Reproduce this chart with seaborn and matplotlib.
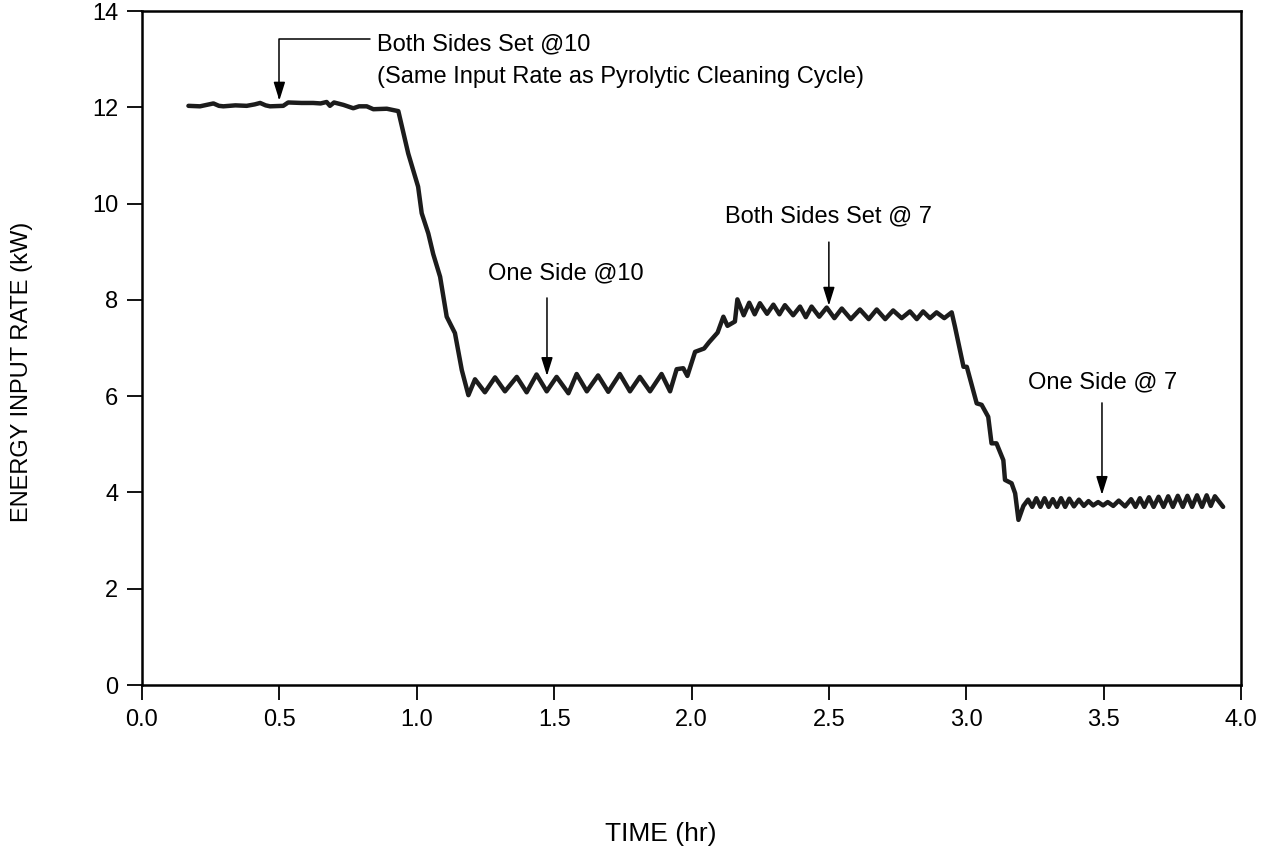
import matplotlib
matplotlib.use("Agg")
import matplotlib.pyplot as plt
import seaborn as sns
import pandas as pd

# ---------------- data ----------------
time_hr = [
    # both sides @10
    0.169, 0.211, 0.235, 0.260, 0.280, 0.296, 0.340, 0.381, 0.410, 0.430,
    0.450, 0.466, 0.514, 0.532, 0.580, 0.623, 0.650, 0.672, 0.684, 0.699,
    0.733, 0.769, 0.790, 0.818, 0.842, 0.891, 0.933,
    # drop
    0.969, 1.005, 1.018, 1.042, 1.060, 1.085, 1.109, 1.139, 1.164, 1.188,
    # one side @10
    1.212, 1.248, 1.285, 1.321, 1.364, 1.400, 1.436, 1.473, 1.509, 1.552,
    1.582, 1.619, 1.660, 1.697, 1.739, 1.776, 1.812, 1.849, 1.891, 1.922,
    # rise
    1.946, 1.970, 1.985, 2.013, 2.046, 2.064, 2.095, 2.116, 2.131, 2.158,
    # both sides @7
    2.167, 2.190, 2.210, 2.230, 2.249, 2.275, 2.298, 2.320, 2.340, 2.370,
    2.395, 2.416, 2.437, 2.465, 2.492, 2.520, 2.547, 2.580, 2.613, 2.645,
    2.674, 2.705, 2.734, 2.765, 2.795, 2.820, 2.843, 2.868, 2.892, 2.920,
    2.947,
    # drop
    2.959, 2.990, 3.002, 3.038, 3.056, 3.080, 3.092, 3.110, 3.135, 3.141,
    3.165, 3.178, 3.190,
    # one side @7
    3.208, 3.225, 3.240, 3.255, 3.270, 3.285, 3.300, 3.315, 3.330, 3.345,
    3.360, 3.375, 3.392, 3.410, 3.428, 3.445, 3.462, 3.480, 3.498, 3.515,
    3.535, 3.555, 3.578, 3.600, 3.616, 3.632, 3.648, 3.665, 3.682, 3.700,
    3.718, 3.735, 3.752, 3.770, 3.788, 3.805, 3.822, 3.840, 3.858, 3.875,
    3.890, 3.905, 3.935,
]
energy_kw = [
    12.03, 12.02, 12.05, 12.08, 12.03, 12.02, 12.04, 12.03, 12.06, 12.09,
    12.04, 12.02, 12.03, 12.10, 12.09, 12.09, 12.08, 12.11, 12.03, 12.10,
    12.05, 11.98, 12.02, 12.02, 11.96, 11.97, 11.92,
    11.04, 10.35, 9.80, 9.38, 8.95, 8.48, 7.65, 7.31, 6.54, 6.02,
    6.35, 6.08, 6.39, 6.10, 6.40, 6.08, 6.45, 6.10, 6.40, 6.06,
    6.46, 6.10, 6.43, 6.09, 6.46, 6.10, 6.40, 6.10, 6.46, 6.10,
    6.56, 6.58, 6.42, 6.92, 6.99, 7.12, 7.32, 7.65, 7.46, 7.55,
    8.01, 7.68, 7.94, 7.70, 7.93, 7.71, 7.90, 7.70, 7.89, 7.68,
    7.86, 7.64, 7.86, 7.65, 7.84, 7.62, 7.82, 7.60, 7.80, 7.60,
    7.80, 7.60, 7.78, 7.62, 7.76, 7.60, 7.76, 7.62, 7.74, 7.62,
    7.74,
    7.44, 6.61, 6.61, 5.85, 5.82, 5.57, 5.02, 5.02, 4.67, 4.26,
    4.19, 3.98, 3.43,
    3.72, 3.85, 3.70, 3.88, 3.70, 3.88, 3.70, 3.86, 3.70, 3.88,
    3.70, 3.87, 3.71, 3.85, 3.72, 3.82, 3.73, 3.80, 3.73, 3.80,
    3.72, 3.83, 3.71, 3.86, 3.70, 3.88, 3.70, 3.90, 3.70, 3.91,
    3.70, 3.92, 3.70, 3.93, 3.70, 3.93, 3.70, 3.94, 3.70, 3.94,
    3.72, 3.92, 3.70,
]

x_ticks = [0.0, 0.5, 1.0, 1.5, 2.0, 2.5, 3.0, 3.5, 4.0]
x_tick_labels = ["0.0", "0.5", "1.0", "1.5", "2.0", "2.5", "3.0", "3.5", "4.0"]
y_ticks = [0, 2, 4, 6, 8, 10, 12, 14]
y_tick_labels = ["0", "2", "4", "6", "8", "10", "12", "14"]

x_label = "TIME (hr)"
y_label = "ENERGY INPUT RATE (kW)"

# annotations: text, text position, arrow start, arrow tip
note1_lines = ["Both Sides Set @10", "(Same Input Rate as Pyrolytic Cleaning Cycle)"]
note1_text_xy = [(0.855, 13.30), (0.855, 12.62)]
note1_arrow_from = (0.83, 13.42)
note1_arrow_tip = (0.50, 12.14)

notes = [
    ("One Side @10", (1.543, 8.54), (1.474, 8.04), (1.474, 6.42)),
    ("Both Sides Set @ 7", (2.497, 9.74), (2.500, 9.20), (2.500, 7.88)),
    ("One Side @ 7", (3.498, 6.29), (3.494, 5.86), (3.494, 3.95)),
]

# ---------------- style ----------------
sns.set_theme(style="white")
plt.rcParams["font.family"] = ["Liberation Sans", "DejaVu Sans"]
FS = 17

df = pd.DataFrame({"time": time_hr, "energy": energy_kw})

W, H = 1271, 863
fig = plt.figure(figsize=(W / 100, H / 100), dpi=100)
ax = fig.add_axes([142 / W, (H - 685) / H, (1241 - 142) / W, (685 - 11) / H])

sns.lineplot(data=df, x="time", y="energy", ax=ax, sort=False, estimator=None,
             color="#1c1c1c", linewidth=3.2)

ax.set_xlim(0, 4)
ax.set_ylim(0, 14)
ax.set_xticks(x_ticks)
ax.set_xticklabels(x_tick_labels)
ax.set_yticks(y_ticks)
ax.set_yticklabels(y_tick_labels)
ax.tick_params(axis="both", which="major", direction="out", length=11, width=1.3,
               color="black", labelsize=FS, labelcolor="black", pad=6,
               bottom=True, left=True, top=False, right=False)

for s in ax.spines.values():
    s.set_visible(True)
    s.set_color("black")
    s.set_linewidth(1.8)

ax.set_xlabel(x_label, fontsize=19, color="black")
ax.set_ylabel(y_label, fontsize=FS, color="black")
ax.xaxis.set_label_coords((661 - 142) / 1099, (685 - 822) / 674)
ax.yaxis.set_label_coords((33 - 142) / 1099, (685 - 372) / 674)

arrow_kw = dict(arrowstyle="-|>,head_length=0.8,head_width=0.25", color="black",
                lw=1.1, shrinkA=0, shrinkB=0, mutation_scale=14)

# first note with elbow leader
ax.annotate("", xy=note1_arrow_tip, xytext=note1_arrow_from,
            arrowprops=dict(connectionstyle="angle,angleA=0,angleB=90,rad=0", **arrow_kw))
for txt, pos in zip(note1_lines, note1_text_xy):
    ax.text(pos[0], pos[1], txt, fontsize=FS, ha="left", va="center", color="black")

for txt, tpos, a_from, a_tip in notes:
    ax.text(tpos[0], tpos[1], txt, fontsize=FS, ha="center", va="center", color="black")
    ax.annotate("", xy=a_tip, xytext=a_from, arrowprops=arrow_kw)

fig.savefig("out.png", dpi=100, facecolor="white")
